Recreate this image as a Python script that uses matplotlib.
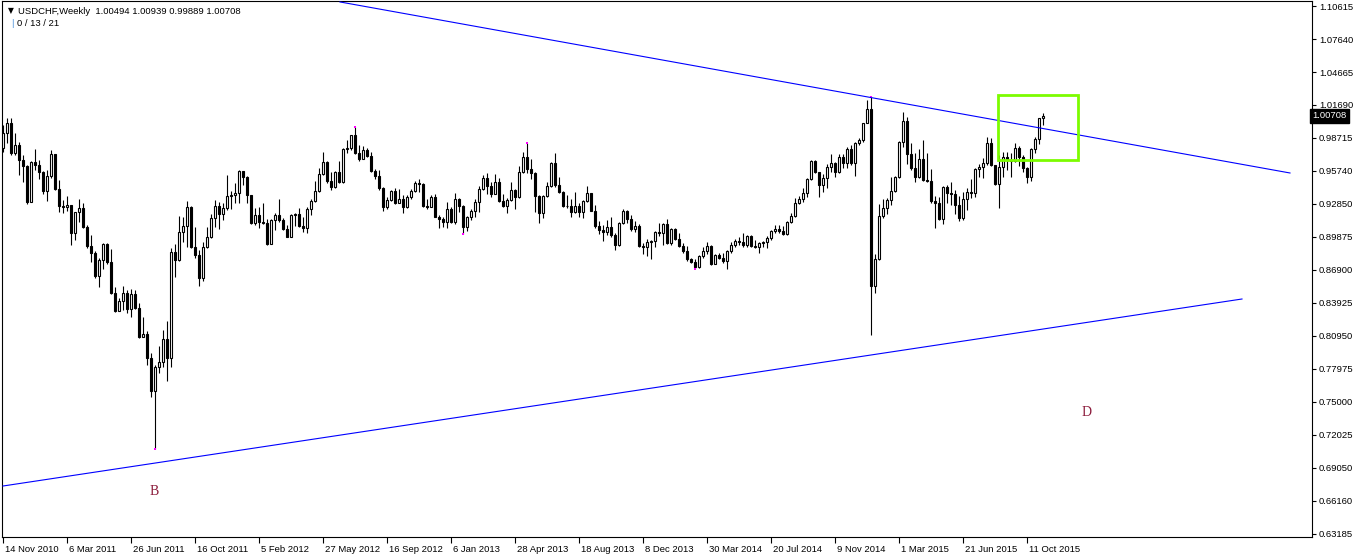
import numpy as np
import matplotlib
matplotlib.use('Agg')
import matplotlib.pyplot as plt
from matplotlib.patches import Rectangle
from matplotlib.transforms import blended_transform_factory, ScaledTranslation

plt.rcParams['font.family'] = ['Liberation Sans', 'DejaVu Sans']

# weekly USDCHF candles, 14 Nov 2010 -> 8 Nov 2015 (open = previous close)
first_open = 0.9781
closes = [
    0.9917, 1.0007, 0.9736, 0.9808, 0.9673, 0.9619, 0.9295, 0.9655, 0.9628, 0.9565,
    0.9394, 0.9529, 0.9727, 0.9412, 0.9259, 0.9250, 0.9268, 0.9015, 0.9204, 0.9241,
    0.9069, 0.8898, 0.8835, 0.8627, 0.8772, 0.8916, 0.8754, 0.8474, 0.8312, 0.8402,
    0.8474, 0.8330, 0.8465, 0.8339, 0.8078, 0.8105, 0.7888, 0.7591, 0.7807, 0.7852,
    0.8059, 0.7888, 0.8844, 0.8772, 0.9024, 0.9078, 0.9250, 0.8889, 0.8817, 0.8609,
    0.8889, 0.8979, 0.9150, 0.9259, 0.9186, 0.9241, 0.9349, 0.9358, 0.9376, 0.9574,
    0.9520, 0.9358, 0.9105, 0.9177, 0.9114, 0.9105, 0.8916, 0.9132, 0.9177, 0.9132,
    0.9051, 0.8979, 0.9177, 0.9186, 0.9078, 0.9060, 0.9231, 0.9304, 0.9394, 0.9547,
    0.9655, 0.9484, 0.9430, 0.9565, 0.9475, 0.9772, 0.9781, 0.9898, 0.9736, 0.9682,
    0.9763, 0.9709, 0.9574, 0.9529, 0.9421, 0.9250, 0.9313, 0.9394, 0.9286, 0.9322,
    0.9250, 0.9340, 0.9394, 0.9466, 0.9457, 0.9259, 0.9250, 0.9340, 0.9159, 0.9141,
    0.9114, 0.9231, 0.9114, 0.9322, 0.9259, 0.9069, 0.9159, 0.9213, 0.9295, 0.9412,
    0.9511, 0.9439, 0.9367, 0.9475, 0.9304, 0.9259, 0.9313, 0.9403, 0.9340, 0.9565,
    0.9700, 0.9592, 0.9556, 0.9349, 0.9195, 0.9349, 0.9439, 0.9646, 0.9448, 0.9385,
    0.9259, 0.9255, 0.9204, 0.9259, 0.9204, 0.9304, 0.9376, 0.9213, 0.9078, 0.9042,
    0.9024, 0.9069, 0.8997, 0.8907, 0.9105, 0.9213, 0.9141, 0.9051, 0.9078, 0.8898,
    0.8889, 0.8934, 0.8943, 0.9024, 0.9015, 0.9096, 0.8925, 0.9051, 0.8961, 0.8898,
    0.8853, 0.8781, 0.8754, 0.8708, 0.8808, 0.8853, 0.8898, 0.8736, 0.8817, 0.8790,
    0.8763, 0.8853, 0.8907, 0.8943, 0.8934, 0.8907, 0.8988, 0.8898, 0.8889, 0.8925,
    0.8930, 0.8970, 0.9033, 0.9051, 0.9033, 0.9006, 0.9114, 0.9168, 0.9286, 0.9322,
    0.9376, 0.9502, 0.9664, 0.9565, 0.9448, 0.9511, 0.9610, 0.9646, 0.9565, 0.9700,
    0.9646, 0.9772, 0.9646, 0.9826, 0.9853, 1.0007, 1.0133, 0.8537, 0.8781, 0.9168,
    0.9241, 0.9313, 0.9394, 0.9520, 0.9835, 1.0025, 0.9727, 0.9601, 0.9520, 0.9682,
    0.9493, 0.9484, 0.9304, 0.9286, 0.9141, 0.9430, 0.9376, 0.9370, 0.9268, 0.9150,
    0.9322, 0.9385, 0.9376, 0.9592, 0.9610, 0.9646, 0.9826, 0.9628, 0.9457, 0.9610,
    0.9700, 0.9673, 0.9664, 0.9781, 0.9700, 0.9601, 0.9520, 0.9772, 0.9862, 1.0049,
    1.00708,
]
highs = [
    0.9989, 1.0052, 1.0052, 0.9917, 0.9835, 0.9718, 0.9628, 0.9660, 0.9772, 0.9673,
    0.9570, 0.9583, 0.9763, 0.9730, 0.9493, 0.9313, 0.9349, 0.9270, 0.9206, 0.9322,
    0.9286, 0.9087, 0.8997, 0.8853, 0.8790, 0.8925, 0.8925, 0.8871, 0.8528, 0.8429,
    0.8537, 0.8501, 0.8510, 0.8501, 0.8384, 0.8258, 0.8132, 0.7933, 0.7825, 0.7996,
    0.8141, 0.8222, 0.8880, 0.8916, 0.9168, 0.9159, 0.9304, 0.9259, 0.9069, 0.8862,
    0.8934, 0.9069, 0.9186, 0.9313, 0.9295, 0.9286, 0.9538, 0.9394, 0.9466, 0.9583,
    0.9576, 0.9529, 0.9360, 0.9241, 0.9250, 0.9286, 0.9141, 0.9141, 0.9195, 0.9322,
    0.9150, 0.9087, 0.9186, 0.9195, 0.9241, 0.9159, 0.9250, 0.9322, 0.9484, 0.9601,
    0.9745, 0.9660, 0.9565, 0.9570, 0.9664, 0.9781, 0.9853, 0.9900, 0.9972, 0.9808,
    0.9799, 0.9781, 0.9745, 0.9592, 0.9583, 0.9430, 0.9340, 0.9403, 0.9421, 0.9412,
    0.9358, 0.9358, 0.9412, 0.9484, 0.9502, 0.9470, 0.9322, 0.9358, 0.9367, 0.9177,
    0.9159, 0.9295, 0.9250, 0.9376, 0.9331, 0.9268, 0.9168, 0.9231, 0.9322, 0.9439,
    0.9538, 0.9556, 0.9475, 0.9547, 0.9511, 0.9367, 0.9331, 0.9475, 0.9412, 0.9619,
    0.9745, 0.9826, 0.9682, 0.9565, 0.9358, 0.9358, 0.9475, 0.9655, 0.9736, 0.9520,
    0.9394, 0.9358, 0.9322, 0.9385, 0.9286, 0.9313, 0.9439, 0.9380, 0.9268, 0.9123,
    0.9087, 0.9132, 0.9159, 0.9015, 0.9110, 0.9231, 0.9220, 0.9177, 0.9123, 0.9096,
    0.8925, 0.8961, 0.8952, 0.9033, 0.9105, 0.9105, 0.9141, 0.9060, 0.9060, 0.9015,
    0.8925, 0.8898, 0.8790, 0.8781, 0.8817, 0.8889, 0.8934, 0.8907, 0.8826, 0.8835,
    0.8835, 0.8862, 0.8934, 0.8961, 0.8979, 0.9015, 0.8997, 0.8997, 0.8952, 0.8934,
    0.8940, 0.8988, 0.9042, 0.9087, 0.9087, 0.9078, 0.9123, 0.9195, 0.9331, 0.9349,
    0.9421, 0.9511, 0.9673, 0.9673, 0.9565, 0.9547, 0.9637, 0.9727, 0.9655, 0.9727,
    0.9727, 0.9790, 0.9808, 0.9835, 0.9871, 1.0010, 1.0214, 1.0240, 0.8826, 0.9277,
    0.9322, 0.9331, 0.9520, 0.9529, 0.9844, 1.0106, 1.0061, 0.9826, 0.9736, 0.9772,
    0.9853, 0.9736, 0.9592, 0.9349, 0.9340, 0.9439, 0.9448, 0.9475, 0.9403, 0.9349,
    0.9385, 0.9421, 0.9502, 0.9601, 0.9637, 0.9691, 0.9881, 0.9871, 0.9628, 0.9718,
    0.9745, 0.9745, 0.9736, 0.9826, 0.9799, 0.9718, 0.9610, 0.9781, 0.9881, 1.0052,
    1.00939,
]
lows = [
    0.9745, 0.9826, 0.9718, 0.9718, 0.9538, 0.9475, 0.9277, 0.9290, 0.9583, 0.9502,
    0.9367, 0.9304, 0.9511, 0.9405, 0.9204, 0.9195, 0.9213, 0.8907, 0.8952, 0.9114,
    0.9060, 0.8880, 0.8754, 0.8609, 0.8528, 0.8690, 0.8736, 0.8465, 0.8303, 0.8312,
    0.8321, 0.8294, 0.8258, 0.8330, 0.8069, 0.8078, 0.7825, 0.7537, 0.7067, 0.7753,
    0.7807, 0.7681, 0.7807, 0.8618, 0.8763, 0.8934, 0.8889, 0.8880, 0.8790, 0.8537,
    0.8582, 0.8880, 0.8970, 0.9069, 0.9051, 0.9132, 0.9222, 0.9231, 0.9286, 0.9286,
    0.9448, 0.9286, 0.9096, 0.9087, 0.9060, 0.9098, 0.8907, 0.8913, 0.9042, 0.9114,
    0.9042, 0.8975, 0.8975, 0.9078, 0.9069, 0.9024, 0.9015, 0.9177, 0.9295, 0.9385,
    0.9538, 0.9466, 0.9403, 0.9421, 0.9466, 0.9466, 0.9736, 0.9763, 0.9730, 0.9664,
    0.9680, 0.9700, 0.9565, 0.9502, 0.9403, 0.9213, 0.9231, 0.9304, 0.9280, 0.9286,
    0.9195, 0.9241, 0.9322, 0.9385, 0.9385, 0.9250, 0.9231, 0.9245, 0.9155, 0.9060,
    0.9069, 0.9060, 0.9105, 0.9096, 0.9204, 0.9006, 0.9033, 0.9132, 0.9159, 0.9204,
    0.9403, 0.9367, 0.9340, 0.9367, 0.9295, 0.9250, 0.9195, 0.9304, 0.9231, 0.9331,
    0.9556, 0.9556, 0.9502, 0.9204, 0.9105, 0.9150, 0.9340, 0.9430, 0.9430, 0.9376,
    0.9250, 0.9241, 0.9159, 0.9195, 0.9159, 0.9150, 0.9295, 0.9210, 0.9060, 0.9006,
    0.8943, 0.8997, 0.8979, 0.8862, 0.8898, 0.9096, 0.9105, 0.9033, 0.9024, 0.8889,
    0.8826, 0.8808, 0.8781, 0.8889, 0.8988, 0.8907, 0.8916, 0.8907, 0.8952, 0.8889,
    0.8835, 0.8763, 0.8745, 0.8690, 0.8699, 0.8790, 0.8826, 0.8727, 0.8736, 0.8781,
    0.8745, 0.8690, 0.8835, 0.8889, 0.8907, 0.8889, 0.8889, 0.8889, 0.8880, 0.8835,
    0.8889, 0.8880, 0.8952, 0.9015, 0.9015, 0.8997, 0.8997, 0.9105, 0.9159, 0.9280,
    0.9295, 0.9340, 0.9493, 0.9556, 0.9340, 0.9385, 0.9421, 0.9565, 0.9520, 0.9556,
    0.9601, 0.9601, 0.9628, 0.9529, 0.9808, 0.9835, 1.0016, 0.8095, 0.8474, 0.8772,
    0.9150, 0.9186, 0.9268, 0.9385, 0.9511, 0.9790, 0.9637, 0.9583, 0.9475, 0.9511,
    0.9484, 0.9475, 0.9286, 0.9060, 0.9132, 0.9096, 0.9286, 0.9268, 0.9186, 0.9123,
    0.9132, 0.9222, 0.9331, 0.9340, 0.9520, 0.9511, 0.9628, 0.9619, 0.9448, 0.9241,
    0.9520, 0.9583, 0.9520, 0.9655, 0.9619, 0.9565, 0.9466, 0.9484, 0.9736, 0.9817,
    0.99889,
]
opens = [first_open] + closes[:-1]
opens[-1] = 1.00494

price_labels = ['1.10615', '1.07640', '1.04665', '1.01690', '0.98715', '0.95740',
                '0.92850', '0.89875', '0.86900', '0.83925', '0.80950', '0.77975',
                '0.75000', '0.72025', '0.69050', '0.66160', '0.63185']
date_labels = ['14 Nov 2010', '6 Mar 2011', '26 Jun 2011', '16 Oct 2011', '5 Feb 2012',
               '27 May 2012', '16 Sep 2012', '6 Jan 2013', '28 Apr 2013', '18 Aug 2013',
               '8 Dec 2013', '30 Mar 2014', '20 Jul 2014', '9 Nov 2014', '1 Mar 2015',
               '21 Jun 2015', '11 Oct 2015']
last_price = '1.00708'

# trend lines / box / zigzag (bar index, price)
upper_line_x = [84.25, 321.75]
upper_line_y = [1.1098, 0.9556]
lower_line_x = [0.0, 309.75]
lower_line_y = [0.6734, 0.8420]
box_x = [248.75, 268.75]
box_y = [0.9673, 1.0259]
zigzag_idx = [38, 88, 115, 131, 173, 217]
zigzag_kind = ['L', 'H', 'L', 'H', 'L', 'H']
letters = [('B', 37.75, 0.6680), ('D', 271.0, 0.7401)]

W, H = 1358, 556
fig = plt.figure(figsize=(W / 100, H / 100), dpi=100)
ax = fig.add_axes([2 / W, 19 / H, 1310 / W, 536 / H])

o = np.array(opens)
c = np.array(closes)
hi = np.maximum(np.array(highs), np.maximum(o, c))
lo = np.minimum(np.array(lows), np.minimum(o, c))
x = np.arange(len(c))

ax.vlines(x, lo, hi, color='black', lw=0.8, zorder=2)
body = np.maximum(np.abs(c - o), 0.0003)
ax.bar(x, body, bottom=np.minimum(o, c), width=0.5,
       color=np.where(c >= o, 'white', 'black'), edgecolor='black', lw=0.8, zorder=3)

zz_y = [lows[i] if k == 'L' else highs[i] for i, k in zip(zigzag_idx, zigzag_kind)]
ax.scatter(zigzag_idx, zz_y, marker='s', s=2.5, color='#ff00ff', lw=0, zorder=4)

ax.plot(upper_line_x, upper_line_y, color='#0000ff', lw=0.8, zorder=5)
ax.plot(lower_line_x, lower_line_y, color='#0000ff', lw=0.8, zorder=5)
ax.add_patch(Rectangle((box_x[0], box_y[0]), box_x[1] - box_x[0], box_y[1] - box_y[0],
                       fill=False, edgecolor='#7cfc00', lw=2, zorder=6))
for t, tx, ty in letters:
    ax.text(tx, ty, t, family='Liberation Serif', fontsize=10, color='#8b1a3a',
            ha='center', va='center')

ax.set_xlim(-0.25, 327.25)
ax.set_ylim(0.62743, 1.11066)

# price scale
yt = [1.10615 - 0.02975 * k for k in range(len(price_labels))]
ax.yaxis.tick_right()
ax.set_yticks(yt)
ax.set_yticklabels(price_labels)
ax.tick_params(axis='y', direction='out', length=3, width=0.8, pad=2, labelsize=6.8)

# time scale
ax.set_xticks([16 * k for k in range(len(date_labels))])
ax.set_xticklabels(date_labels, ha='left')
ax.tick_params(axis='x', direction='out', length=4, width=0.8, pad=2, labelsize=6.8)
off = ScaledTranslation(2 / 100, 0, fig.dpi_scale_trans)
for lbl in ax.get_xticklabels():
    lbl.set_transform(lbl.get_transform() + off)

for s in ax.spines.values():
    s.set_linewidth(0.8)
    s.set_color('black')

tr = blended_transform_factory(ax.transAxes, ax.transData)
ax.text(1.0, 1.00708, last_price, transform=tr, ha='left', va='center', color='white',
        fontsize=6.8, bbox=dict(boxstyle='square,pad=0.25', facecolor='black', edgecolor='black'))

fig.text(8 / W, 1 - 11 / H, '\u25bc', fontsize=5.5, va='center', family='DejaVu Sans')
fig.text(18 / W, 1 - 11 / H, 'USDCHF,Weekly  1.00494 1.00939 0.99889 1.00708',
         fontsize=6.8, va='center')
fig.text(11 / W, 1 - 24 / H, '|', fontsize=6.8, va='center', color='#4a90d9')
fig.text(17 / W, 1 - 24 / H, '0 / 13 / 21', fontsize=6.8, va='center')

fig.savefig('out.png', dpi=100, facecolor='white')
